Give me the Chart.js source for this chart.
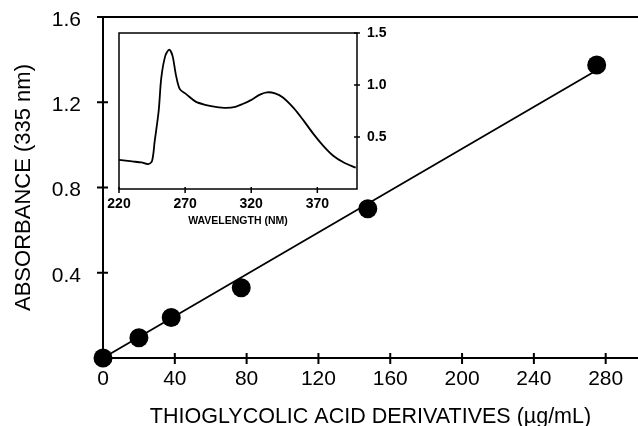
<!DOCTYPE html>
<html>
<head>
<meta charset="utf-8">
<script src="https://cdn.jsdelivr.net/npm/chart.js@4/dist/chart.umd.min.js"></script>
<style>
  body { margin: 0; background: #fff; }
  #wrap { position: relative; width: 638px; height: 426px; }
  #wrap canvas { position: absolute; left: 0; top: 0; }
</style>
</head>
<body>
<div id="wrap">
  <canvas id="mainChart" width="638" height="426"></canvas>
  <canvas id="insetChart" width="638" height="426"></canvas>
</div>
<script>
// calibration points
const concentration = [0, 20, 38, 77, 147.5, 275];
const absorbance = [0, 0.095, 0.19, 0.33, 0.7, 1.375];
// fitted line ends
const fitX = [0, 275];
const fitY = [0, 1.35];

// inset: absorption spectrum
const wavelength = [220, 230, 237, 242, 245, 247, 250, 252, 255, 258, 260.5, 263, 266, 271, 278, 285, 293, 301, 308, 314, 319, 327, 332, 338, 344, 352, 359.5, 367, 374.5, 382, 390, 399];
const spectrum = [0.28, 0.265, 0.255, 0.24, 0.27, 0.46, 0.75, 1.07, 1.28, 1.34, 1.28, 1.1, 0.96, 0.91, 0.84, 0.81, 0.79, 0.78, 0.79, 0.82, 0.85, 0.91, 0.93, 0.92, 0.88, 0.78, 0.66, 0.53, 0.415, 0.32, 0.255, 0.205];

const xTicks = [0, 40, 80, 120, 160, 200, 240, 280];
const yTicks = [0.4, 0.8, 1.2, 1.6];
const insetXTicks = [220, 270, 320, 370];
const insetYTicks = [0.5, 1.0, 1.5];

Chart.defaults.color = "#000";
Chart.defaults.font.family = "'Liberation Sans', Arial, sans-serif";

function toPoints(xs, ys) {
  return xs.map((x, i) => ({ x: x, y: ys[i] }));
}

// ticks that cross the axis line, plus the top frame line
const crossTicks = {
  id: "crossTicks",
  afterDraw(chart) {
    const ctx = chart.ctx;
    const area = chart.chartArea;
    const xs = chart.scales.x;
    const ys = chart.scales.y;
    ctx.save();
    ctx.strokeStyle = "#000";
    ctx.lineWidth = 2;
    ctx.beginPath();
    ctx.moveTo(area.left - 6, area.top);
    ctx.lineTo(area.right, area.top);
    xTicks.forEach((v) => {
      if (v === 0) return;
      const px = xs.getPixelForValue(v);
      ctx.moveTo(px, area.bottom - 5);
      ctx.lineTo(px, area.bottom + 6);
    });
    yTicks.forEach((v) => {
      const py = ys.getPixelForValue(v);
      ctx.moveTo(area.left - 6, py);
      ctx.lineTo(area.left + 5, py);
    });
    ctx.stroke();
    ctx.restore();
  },
};

new Chart(document.getElementById("mainChart"), {
  type: "scatter",
  data: {
    datasets: [
      {
        data: toPoints(concentration, absorbance),
        backgroundColor: "#000",
        borderColor: "#000",
        pointRadius: 9.5,
        borderWidth: 0,
        clip: false,
      },
      {
        data: toPoints(fitX, fitY),
        showLine: true,
        borderColor: "#000",
        borderWidth: 1.8,
        pointRadius: 0,
        clip: false,
      },
    ],
  },
  options: {
    responsive: false,
    animation: false,
    events: [],
    layout: { autoPadding: false, padding: { left: 0, top: 17, right: 0, bottom: 0 } },
    plugins: { legend: { display: false }, tooltip: { enabled: false } },
    scales: {
      x: {
        type: "linear",
        min: 0,
        max: 298,
        afterBuildTicks: (scale) => {
          scale.ticks = xTicks.map((v) => ({ value: v }));
        },
        afterFit: (scale) => {
          scale.height = 68;
          scale.paddingLeft = 0;
          scale.paddingRight = 0;
        },
        grid: { display: false, drawTicks: false },
        border: { color: "#000", width: 2 },
        ticks: { padding: 9, font: { size: 21 }, maxRotation: 0 },
        title: {
          display: true,
          text: "THIOGLYCOLIC ACID DERIVATIVES (µg/mL)",
          font: { size: 21.5, lineHeight: 1 },
          padding: { top: 0, bottom: -2 },
        },
      },
      y: {
        type: "linear",
        min: 0,
        max: 1.6,
        afterBuildTicks: (scale) => {
          scale.ticks = yTicks.map((v) => ({ value: v }));
        },
        afterFit: (scale) => {
          scale.width = 103;
          scale.paddingTop = 0;
          scale.paddingBottom = 0;
        },
        grid: { display: false, drawTicks: false },
        border: { color: "#000", width: 2 },
        ticks: {
          padding: 22,
          labelOffset: 3,
          font: { size: 21 },
          callback: (v) => v.toFixed(1),
        },
        title: {
          display: true,
          text: "ABSORBANCE (335 nm)",
          font: { size: 22, lineHeight: 1 },
          padding: { top: 13, bottom: 0 },
        },
      },
    },
  },
  plugins: [crossTicks],
});

// inset frame and its ticks
const insetFrame = {
  id: "insetFrame",
  afterDraw(chart) {
    const ctx = chart.ctx;
    const area = chart.chartArea;
    const xs = chart.scales.x;
    const ys = chart.scales.y;
    ctx.save();
    ctx.strokeStyle = "#000";
    ctx.lineWidth = 1.5;
    ctx.strokeRect(area.left, area.top, area.right - area.left, area.bottom - area.top);
    ctx.beginPath();
    insetXTicks.forEach((v) => {
      const px = xs.getPixelForValue(v);
      ctx.moveTo(px, area.bottom - 2);
      ctx.lineTo(px, area.bottom + 4);
    });
    insetYTicks.forEach((v) => {
      const py = ys.getPixelForValue(v);
      ctx.moveTo(area.right - 3, py);
      ctx.lineTo(area.right + 3, py);
    });
    ctx.stroke();
    ctx.restore();
  },
};

new Chart(document.getElementById("insetChart"), {
  type: "scatter",
  data: {
    datasets: [
      {
        data: toPoints(wavelength, spectrum),
        showLine: true,
        borderColor: "#000",
        borderWidth: 1.8,
        pointRadius: 0,
        tension: 0.3,
      },
    ],
  },
  options: {
    responsive: false,
    animation: false,
    events: [],
    layout: { autoPadding: false, padding: { left: 119, top: 33, right: 0, bottom: 200 } },
    plugins: { legend: { display: false }, tooltip: { enabled: false } },
    scales: {
      x: {
        type: "linear",
        min: 220,
        max: 400,
        afterBuildTicks: (scale) => {
          scale.ticks = insetXTicks.map((v) => ({ value: v }));
        },
        afterFit: (scale) => {
          scale.height = 37;
          scale.paddingLeft = 0;
          scale.paddingRight = 0;
        },
        grid: { display: false, drawTicks: false },
        border: { display: false },
        ticks: { padding: 7, font: { size: 14, weight: "bold" }, maxRotation: 0 },
        title: {
          display: true,
          text: "WAVELENGTH (NM)",
          font: { size: 10.5, weight: "bold", lineHeight: 1 },
          padding: { top: 0, bottom: 0 },
        },
      },
      y: {
        type: "linear",
        position: "right",
        min: 0,
        max: 1.5,
        afterBuildTicks: (scale) => {
          scale.ticks = insetYTicks.map((v) => ({ value: v }));
        },
        afterFit: (scale) => {
          scale.width = 281;
          scale.paddingTop = 0;
          scale.paddingBottom = 0;
        },
        grid: { display: false, drawTicks: false },
        border: { display: false },
        ticks: {
          padding: 10,
          font: { size: 14, weight: "bold" },
          callback: (v) => v.toFixed(1),
        },
      },
    },
  },
  plugins: [insetFrame],
});
</script>
</body>
</html>
